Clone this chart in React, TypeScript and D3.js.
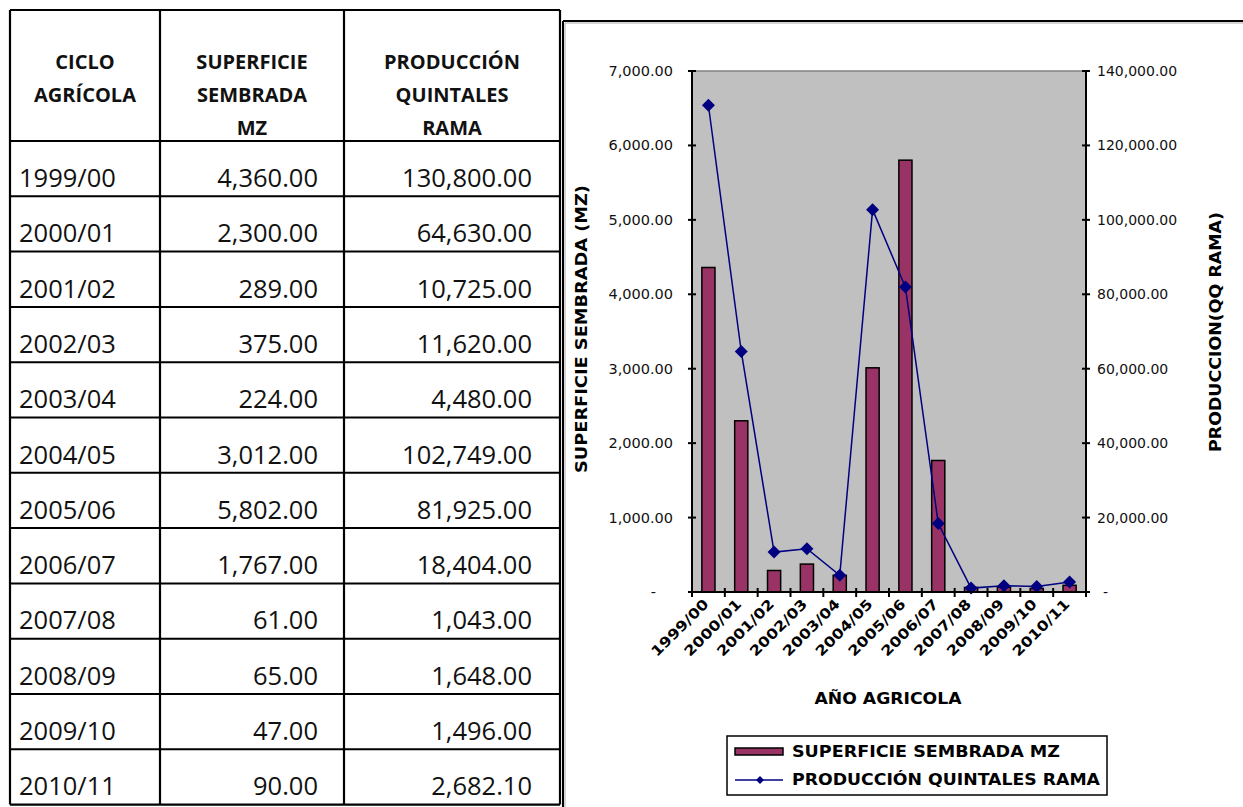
import React from 'react';
import { scaleBand, scaleLinear, format, line } from 'd3';

// datos de la tabla
const ciclos = ['1999/00', '2000/01', '2001/02', '2002/03', '2003/04', '2004/05', '2005/06', '2006/07', '2007/08', '2008/09', '2009/10', '2010/11'];
const superficie = [4360, 2300, 289, 375, 224, 3012, 5802, 1767, 61, 65, 47, 90];
const produccion = [130800, 64630, 10725, 11620, 4480, 102749, 81925, 18404, 1043, 1648, 1496, 2682.1];

const headers = [
  ['CICLO', 'AGRÍCOLA'],
  ['SUPERFICIE', 'SEMBRADA', 'MZ'],
  ['PRODUCCIÓN', 'QUINTALES', 'RAMA'],
];

const leftTicks = [0, 1000, 2000, 3000, 4000, 5000, 6000, 7000];
const rightTicks = [0, 20000, 40000, 60000, 80000, 100000, 120000, 140000];

const serieBarras = 'SUPERFICIE SEMBRADA MZ';
const serieLinea = 'PRODUCCIÓN QUINTALES RAMA';
const tituloX = 'AÑO AGRICOLA';
const tituloY1 = 'SUPERFICIE SEMBRADA (MZ)';
const tituloY2 = 'PRODUCCION(QQ RAMA)';

const fmt = format(',.2f');
const tickFmt = (v: number) => (v === 0 ? '-' : fmt(v));

const tableFont = '"Open Sans", sans-serif';
const chartFont = '"DejaVu Sans", sans-serif';

// layout tabla
const colX = [10, 160, 344, 560];
const tTop = 10;
const headBottom = 141;
const rowH = 55.3;

// layout grafico
const plot = { left: 692, right: 1086, top: 71, bottom: 592 };
const BAR = '#993366';
const NAVY = '#000080';

function diamond(cx: number, cy: number, r: number) {
  return `M${cx},${cy - r}L${cx + r},${cy}L${cx},${cy + r}L${cx - r},${cy}Z`;
}

function Tabla() {
  const tBottom = headBottom + rowH * ciclos.length;
  return (
    <g>
      {/* cabecera */}
      {headers.map((lines, i) => {
        const cx = (colX[i] + colX[i + 1]) / 2;
        return lines.map((t, j) => (
          <text key={`${i}-${j}`} x={cx} y={69 + j * 33} textAnchor="middle"
            fontFamily={tableFont} fontWeight="bold" fontSize={20} fill="#111">{t}</text>
        ));
      })}
      {ciclos.map((c, i) => {
        const yb = headBottom + i * rowH + 46;
        return (
          <g key={c}>
            <text x={19} y={yb} fontFamily={tableFont} fontSize={25.5} fill="#111">{c}</text>
            <text x={318} y={yb} textAnchor="end" fontFamily={tableFont} fontSize={25.5} fill="#111">{fmt(superficie[i])}</text>
            <text x={532} y={yb} textAnchor="end" fontFamily={tableFont} fontSize={25.5} fill="#111">{fmt(produccion[i])}</text>
          </g>
        );
      })}
      {/* rejilla */}
      {ciclos.map((c, i) => (
        <line key={'h' + c} x1={colX[0]} x2={colX[3]} y1={headBottom + i * rowH} y2={headBottom + i * rowH}
          stroke="#000" strokeWidth={2} />
      ))}
      {colX.map((x) => (
        <line key={'v' + x} x1={x} x2={x} y1={tTop} y2={tBottom} stroke="#000" strokeWidth={2.2} />
      ))}
      <line x1={colX[0]} x2={colX[3]} y1={tTop} y2={tTop} stroke="#000" strokeWidth={2.2} />
      <line x1={colX[0]} x2={colX[3]} y1={tBottom} y2={tBottom} stroke="#000" strokeWidth={2.2} />
    </g>
  );
}

function Grafico() {
  const x = scaleBand<string>().domain(ciclos).range([plot.left, plot.right]);
  const yL = scaleLinear().domain([0, 7000]).range([plot.bottom, plot.top]);
  const yR = scaleLinear().domain([0, 140000]).range([plot.bottom, plot.top]);
  const bw = x.bandwidth();
  const cx = (c: string) => (x(c) as number) + bw / 2;
  const barW = bw * 0.4;

  const pts = ciclos.map((c, i) => [cx(c), yR(produccion[i])] as [number, number]);
  const path = line()(pts) as string;

  const boundaries = ciclos.map((c) => x(c) as number).concat([plot.right]);

  return (
    <g>
      {/* marco */}
      <line x1={563} x2={1243} y1={21} y2={21} stroke="#000" strokeWidth={2} />
      <line x1={563} x2={563} y1={21} y2={807} stroke="#000" strokeWidth={2} />
      <line x1={565} x2={1243} y1={23} y2={23} stroke="#aaa" strokeWidth={1} />
      <line x1={565} x2={565} y1={23} y2={807} stroke="#aaa" strokeWidth={1} />

      {/* area de trazado */}
      <rect x={plot.left} y={plot.top} width={plot.right - plot.left} height={plot.bottom - plot.top} fill="#c0c0c0" />
      <line x1={plot.left} x2={plot.right} y1={plot.top} y2={plot.top} stroke="#808080" strokeWidth={1.5} />

      {/* barras */}
      {ciclos.map((c, i) => (
        <rect key={c} x={cx(c) - barW / 2} y={yL(superficie[i])} width={barW}
          height={plot.bottom - yL(superficie[i])} fill={BAR} stroke="#000" strokeWidth={1.5} />
      ))}

      {/* linea */}
      <path d={path} fill="none" stroke={NAVY} strokeWidth={1.5} />
      {pts.map(([px, py], i) => (
        <path key={i} d={diamond(px, py, 6.5)} fill={NAVY} />
      ))}

      {/* ejes */}
      <line x1={plot.left} x2={plot.left} y1={plot.top} y2={plot.bottom} stroke="#000" strokeWidth={2} />
      <line x1={plot.right} x2={plot.right} y1={plot.top} y2={plot.bottom} stroke="#000" strokeWidth={2} />
      <line x1={plot.left} x2={plot.right} y1={plot.bottom} y2={plot.bottom} stroke="#000" strokeWidth={2} />
      {leftTicks.map((t) => (
        <g key={'l' + t}>
          <line x1={plot.left - 4} x2={plot.left + 4} y1={yL(t)} y2={yL(t)} stroke="#000" strokeWidth={2} />
          <text x={t === 0 ? 656 : 673} y={yL(t) + 5} textAnchor="end" fontFamily={chartFont} fontSize={14.5} fill="#111">{tickFmt(t)}</text>
        </g>
      ))}
      {rightTicks.map((t) => (
        <g key={'r' + t}>
          <line x1={plot.right - 4} x2={plot.right + 4} y1={yR(t)} y2={yR(t)} stroke="#000" strokeWidth={2} />
          <text x={t === 0 ? 1103 : 1097} y={yR(t) + 5} fontFamily={chartFont} fontSize={14} fill="#111">{tickFmt(t)}</text>
        </g>
      ))}
      {boundaries.map((b, i) => (
        <line key={'x' + i} x1={b} x2={b} y1={plot.bottom - 4} y2={plot.bottom + 5} stroke="#000" strokeWidth={2} />
      ))}
      {ciclos.map((c) => (
        <text key={'xl' + c} transform={`translate(${cx(c) + 1},${plot.bottom + 13}) rotate(-45)`}
          textAnchor="end" fontFamily={chartFont} fontWeight="bold" fontSize={14}
          textLength={74} lengthAdjust="spacingAndGlyphs" fill="#000">{c}</text>
      ))}

      {/* titulos */}
      <text x={888} y={704} textAnchor="middle" fontFamily={chartFont} fontWeight="bold" fontSize={15}
        textLength={147} lengthAdjust="spacingAndGlyphs">{tituloX}</text>
      <text transform="translate(587,329) rotate(-90)" textAnchor="middle" fontFamily={chartFont} fontWeight="bold"
        fontSize={15} textLength={288} lengthAdjust="spacingAndGlyphs">{tituloY1}</text>
      <text transform="translate(1221,332) rotate(-90)" textAnchor="middle" fontFamily={chartFont} fontWeight="bold"
        fontSize={15} textLength={240} lengthAdjust="spacingAndGlyphs">{tituloY2}</text>

      {/* leyenda */}
      <rect x={727} y={736} width={380} height={59} fill="#fff" stroke="#000" strokeWidth={1.5} />
      <rect x={735} y={748} width={48} height={7} fill={BAR} stroke="#000" strokeWidth={1.5} />
      <text x={792} y={757} fontFamily={chartFont} fontWeight="bold" fontSize={15}
        textLength={268} lengthAdjust="spacingAndGlyphs">{serieBarras}</text>
      <line x1={735} x2={783} y1={780} y2={780} stroke={NAVY} strokeWidth={1.5} />
      <path d={diamond(760, 780, 4)} fill={NAVY} />
      <text x={792} y={785} fontFamily={chartFont} fontWeight="bold" fontSize={15}
        textLength={308} lengthAdjust="spacingAndGlyphs">{serieLinea}</text>
    </g>
  );
}

export default function App() {
  return (
    <svg width={1243} height={807} style={{ position: 'absolute', left: 0, top: 0, background: '#fff' }}>
      <rect width={1243} height={807} fill="#fff" />
      <Tabla />
      <Grafico />
    </svg>
  );
}
